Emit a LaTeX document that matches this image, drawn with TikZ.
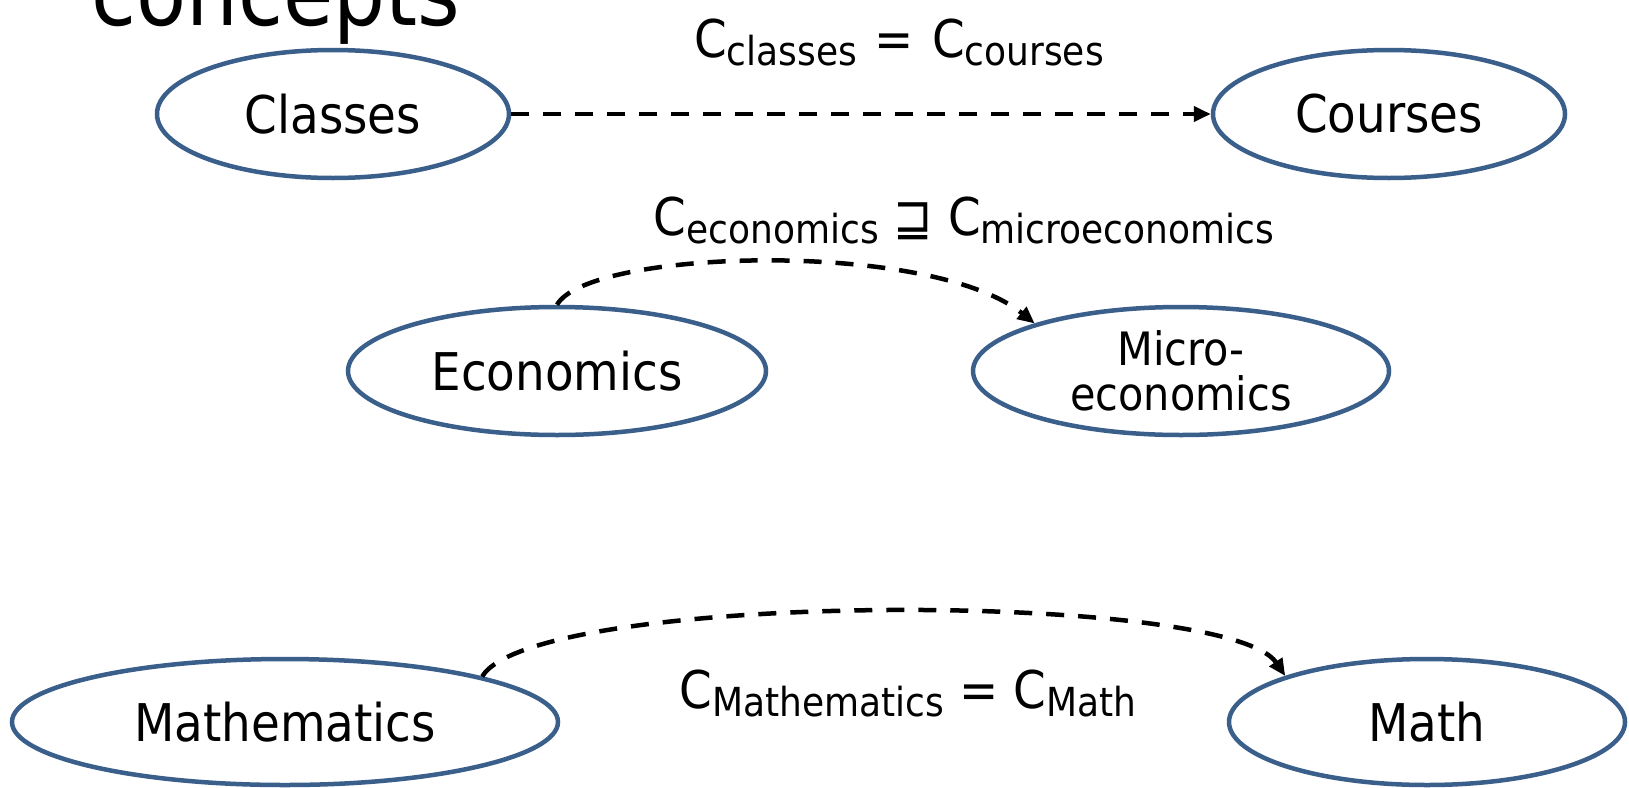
\documentclass[tikz,border=0pt]{standalone}
\usepackage{fontspec}
\setmainfont[FakeStretch=0.9]{DejaVu Sans}
\usetikzlibrary{shapes.geometric,arrows.meta}
\definecolor{ellblue}{RGB}{58,95,139}
\newcommand{\nsub}[1]{\raisebox{-8pt}{\fontsize{40}{42}\selectfont #1}}
\begin{document}
\begin{tikzpicture}[x=1pt,y=-1pt,
  concept/.style={ellipse, draw=ellblue, line width=4.5pt, inner sep=0pt, fill=white,
    font=\fontsize{52}{56}\selectfont},
  link/.style={line width=4.5pt, dash pattern=on 18pt off 14pt,
    -{Triangle[length=17pt,width=15pt]}},
  lbl/.style={anchor=base, inner sep=0pt, font=\fontsize{52}{56}\selectfont}]
\path[use as bounding box] (0,0) rectangle (1629,787);
\clip (0,0) rectangle (1629,787);
\fill[white] (0,0) rectangle (1629,787);
\node[anchor=base west, inner sep=0pt, font=\fontsize{91}{95}\selectfont] (title) at (91,25) {concepts};
\node[concept, minimum width=352pt, minimum height=128pt] (classes) at (333,114) {Classes};
\node[concept, minimum width=352pt, minimum height=128pt] (courses) at (1389,114) {Courses};
\node[concept, minimum width=418pt, minimum height=128pt] (eco) at (557,371) {Economics};
\node[concept, minimum width=416pt, minimum height=128pt, align=center,
  font=\fontsize{46}{45}\selectfont] (micro) at (1181,371) {Micro-\\economics};
\node[concept, minimum width=546pt, minimum height=126pt] (mathe) at (285,722) {Mathematics};
\node[concept, minimum width=396pt, minimum height=126pt] (math) at (1427,722) {Math};
\node[lbl] (l1) at (899,57) {C\nsub{classes}\hspace{3pt} = \hspace{3pt}C\nsub{courses}};
\node[lbl] (l2) at (964,235) {C\nsub{economics} ⊒ C\nsub{microeconomics}};
\node[lbl] (l3) at (908,708) {C\nsub{Mathematics} = C\nsub{Math}};
\draw[link] (classes.east) -- (courses.west);
\draw[link] (eco.north) .. controls +(32,-56) and +(-104,-84) .. (micro.162);
\draw[link] (mathe.13) .. controls +(52,-86) and +(-58,-86) .. (math.162);
\end{tikzpicture}
\end{document}
